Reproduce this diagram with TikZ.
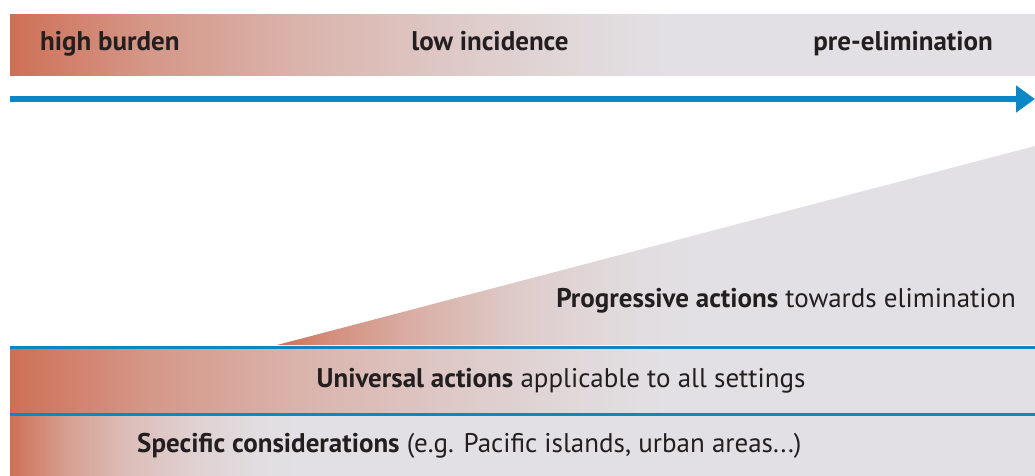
\documentclass[tikz,border=0pt]{standalone}
\usepackage{fontspec}
\setmainfont{PT Sans}
\usetikzlibrary{arrows.meta}

\definecolor{warm}{HTML}{CE6F55}
\definecolor{mist}{HTML}{E2E0E4}
\definecolor{flow}{HTML}{0A87C6}
\definecolor{ink}{HTML}{231F20}

% Horizontal fades from warm red into grey (stops 25bp..75bp span the path)
\pgfdeclarehorizontalshading{longfade}{100bp}{color(0bp)=(warm); color(25bp)=(warm);
  color(27.5bp)=(warm!86!mist); color(31.85bp)=(warm!64!mist); color(39bp)=(warm!40!mist);
  color(47.5bp)=(warm!18!mist); color(52.5bp)=(warm!7!mist); color(57bp)=(mist); color(100bp)=(mist)}
\pgfdeclarehorizontalshading{shortfade}{100bp}{color(0bp)=(warm); color(25bp)=(warm);
  color(26bp)=(warm!84!mist); color(27.75bp)=(warm!58!mist); color(30.5bp)=(warm!32!mist);
  color(34bp)=(warm!13!mist); color(37bp)=(warm!3!mist); color(39bp)=(mist); color(100bp)=(mist)}
\pgfdeclarehorizontalshading{wedgefade}{100bp}{color(0bp)=(warm); color(25bp)=(warm);
  color(28.5bp)=(warm!72!mist); color(34bp)=(warm!44!mist); color(41bp)=(warm!18!mist);
  color(47.5bp)=(warm!5!mist); color(52.5bp)=(mist); color(100bp)=(mist)}

\tikzset{
  label text/.style={inner sep=0pt, text=ink, font=\fontsize{27}{30}\selectfont},
  divider/.style={draw=flow, line width=2.5pt},
}

\begin{document}
\begin{tikzpicture}[x=1pt, y=-1pt]
  \useasboundingbox (0,0) rectangle (1035,475);
  \fill[white] (0,0) rectangle (1035,475);

  % stage band
  \shade[shading=longfade] (10,14) rectangle (1035,75);
  \node[label text, anchor=base west] (burden) at (40,50) {\textbf{high burden}};
  \node[label text, anchor=base] (incidence) at (490,50) {\textbf{low incidence}};
  \node[label text, anchor=base east] (preelim) at (993,50) {\textbf{pre-elimination}};

  % progression arrow
  \coordinate (arrowstart) at (10,99);
  \coordinate (arrowend) at (1035,99);
  \draw[flow, line width=5.5pt, -{Triangle[length=19pt,width=26pt]}] (arrowstart) -- (arrowend);

  % widening wedge of progressive actions
  \shade[shading=wedgefade] (277,345) -- (1035,146) -- (1035,345) -- cycle;
  \node[label text, anchor=base east] (progressive) at (1016,307)
    {\textbf{Progressive actions} towards elimination};

  % universal actions band
  \draw[divider] (10,347.5) -- (1035,347.5);
  \shade[shading=longfade] (10,349) rectangle (1035,413);
  \node[label text, anchor=base] (universal) at (561,387)
    {\textbf{Universal actions} applicable to all settings};

  % specific considerations band
  \draw[divider] (10,414.5) -- (1035,414.5);
  \shade[shading=shortfade] (10,416) rectangle (1035,475);
  \node[label text, anchor=base west] (specific) at (137,452)
    {\textbf{Specific considerations} (e.g. Pacific islands, urban areas...)};
\end{tikzpicture}
\end{document}
